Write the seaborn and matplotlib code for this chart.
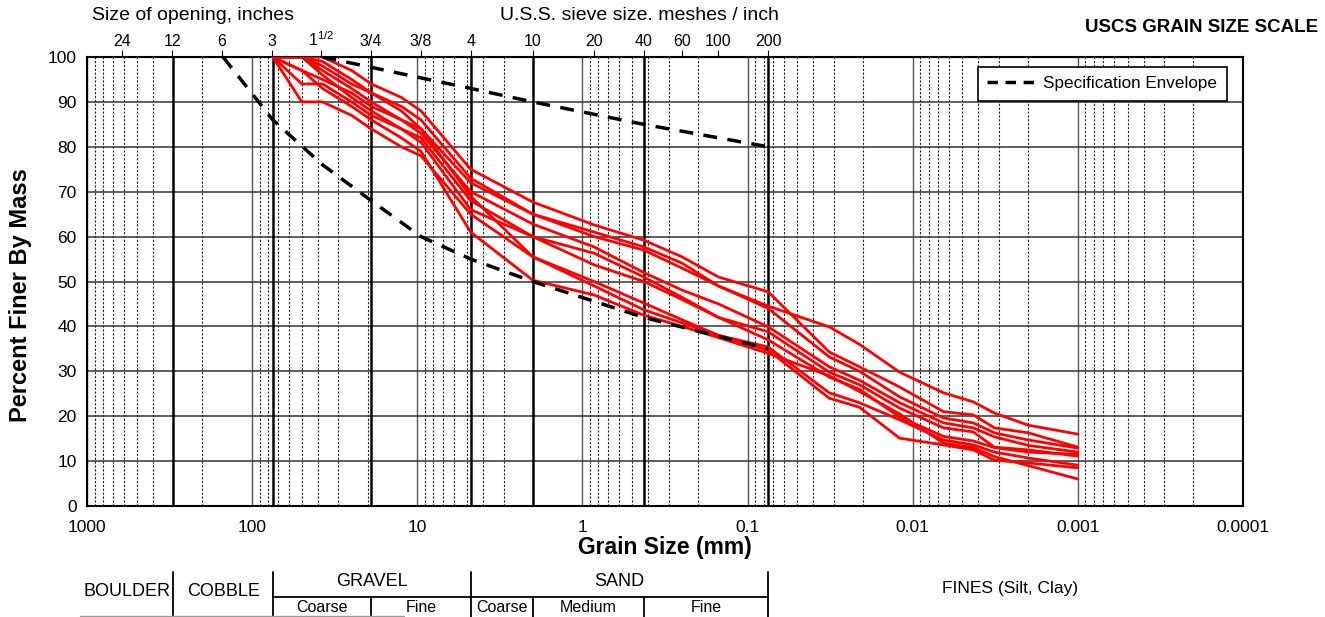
import numpy as np
import pandas as pd
import matplotlib
matplotlib.use("Agg")
import matplotlib.pyplot as plt
import matplotlib.transforms as mtransforms
from matplotlib.ticker import FixedLocator, LogLocator, NullFormatter
from matplotlib.lines import Line2D
import seaborn as sns

# sieve / hydrometer sizes (mm)
sizes = [75, 50, 37.5, 25, 19, 12.5, 9.5, 4.75, 2.0, 0.85, 0.425, 0.25, 0.15, 0.075,
         0.032, 0.021, 0.012, 0.0065, 0.0043, 0.0032, 0.002, 0.001]

# percent finer for each sample
s1 = [100, 100, 100, 97, 94, 91, 88, 75, 67.7, 62.6, 59.2, 55.5, 51, 47.7, 34.3, 31, 26.5, 21, 20.3, 17.4, 16.3, 13.1]
s2 = [100, 100, 98, 94, 92, 89, 86, 73, 65, 61, 57.7, 54.1, 49, 44.5, 39.9, 36, 29.8, 25.2, 23.2, 20.7, 18, 16]
s3 = [100, 97, 95, 92, 89, 86, 84, 72, 65, 60, 57, 53, 49, 44, 33.2, 30, 24.3, 19.6, 18.5, 16.3, 14.7, 12.9]
s4 = [100, 100, 97, 93, 90, 86, 83, 70, 62.8, 57.7, 52, 48.1, 45, 39.9, 31, 28, 23, 18.5, 17.4, 15.4, 13.5, 12]
s5 = [100, 94, 94, 90, 87, 84, 82, 68, 60, 56.3, 51, 46.5, 42, 38.8, 29.8, 27, 21.8, 17.4, 16.5, 13.1, 12.5, 11.1]
s6 = [100, 100, 96, 91, 88, 84, 81, 66, 60, 53.7, 50, 46, 42, 37, 28.7, 26, 19.8, 15.5, 14.5, 13, 12, 11.5]
s7 = [100, 90, 90, 87, 84, 80, 78, 65, 55.5, 50, 45.2, 41.5, 38, 35.4, 25.2, 23, 19.2, 14.7, 13.6, 12, 10.7, 9.1]
s8 = [100, 100, 99, 95, 92, 88, 84, 69, 55.5, 49, 43.7, 40.8, 38, 34.7, 24, 22, 15.1, 13.6, 12.5, 10.2, 9.6, 8.5]
s9 = [100, 97, 93, 89, 86, 82, 79, 61, 50.3, 47, 42.5, 40, 37.5, 34, 29, 25.5, 20.5, 14, 13, 11, 9, 6]
samples = [s1, s2, s3, s4, s5, s6, s7, s8, s9]

# specification envelope
upper_x = [37.5, 4.75, 2.0, 0.425, 0.075]
upper_y = [100, 93, 90, 85, 80]
lower_x = [150, 75, 37.5, 19, 9.5, 4.75, 2.0, 0.425, 0.075]
lower_y = [100, 86, 76, 68, 60, 55, 50, 42, 35]

# top axis sieve labels
sieve_mm = [609.6, 304.8, 152.4, 76.2, 38.1, 19.05, 9.525, 4.75, 2.0, 0.85, 0.425, 0.25, 0.15, 0.075]
sieve_labels = ["24", "12", "6", "3", "1$^{1/2}$", "3/4", "3/8", "4", "10", "20", "40", "60", "100", "200"]
heavy_lines = [300, 75, 19, 4.75, 2.0, 0.425, 0.075]

rows = []
for i, s in enumerate(samples):
    for x, y in zip(sizes, s):
        rows.append({"size": x, "pct": y, "sample": f"S{i + 1}"})
df = pd.DataFrame(rows)

sns.set_style("white")
plt.rcParams["font.family"] = ["Liberation Sans", "DejaVu Sans"]
plt.rcParams["mathtext.fontset"] = "custom"
plt.rcParams["mathtext.rm"] = "Liberation Sans"
for k in ["text.color", "axes.labelcolor", "xtick.color", "ytick.color"]:
    plt.rcParams[k] = "black"

fig = plt.figure(figsize=(13.25, 6.17), dpi=100)
ax = fig.add_axes([87 / 1325, 1 - 506 / 617, 1156 / 1325, 449 / 617])

ax.set_xscale("log")
ax.set_xlim(1000, 0.0001)
ax.set_ylim(0, 100)

# grid
ax.xaxis.set_major_locator(FixedLocator([1000, 100, 10, 1, 0.1, 0.01, 0.001, 0.0001]))
ax.set_xticklabels(["1000", "100", "10", "1", "0.1", "0.01", "0.001", "0.0001"])
ax.xaxis.set_minor_locator(LogLocator(base=10, subs=np.arange(2, 10), numticks=100))
ax.xaxis.set_minor_formatter(NullFormatter())
ax.set_yticks(np.arange(0, 101, 10))
ax.grid(which="major", axis="x", color="#555555", lw=1.0, ls="-")
ax.grid(which="minor", axis="x", color="#222222", lw=0.8, ls=(0, (2, 1.5)))
ax.grid(which="major", axis="y", color="#333333", lw=1.1, ls="-")
ax.set_axisbelow(True)
for v in heavy_lines:
    ax.axvline(v, color="black", lw=1.8, zorder=1)

sns.lineplot(data=df, x="size", y="pct", units="sample", estimator=None, sort=False,
             color="red", lw=2, ax=ax, zorder=3)
ax.plot(upper_x, upper_y, color="black", lw=2.5, ls=(0, (4, 3)), zorder=4)
ax.plot(lower_x, lower_y, color="black", lw=2.5, ls=(0, (4, 3)), zorder=4)

for sp in ax.spines.values():
    sp.set_color("black")
    sp.set_linewidth(1.5)
ax.tick_params(axis="both", which="major", labelsize=12.5, length=4, direction="out", color="black")
ax.tick_params(axis="x", which="minor", length=0)
ax.tick_params(axis="x", pad=6)

ax.set_xlabel("Grain Size (mm)", fontsize=16.5, fontweight="bold", labelpad=1)
ax.set_ylabel("Percent Finer By Mass", fontsize=17, fontweight="bold")
ax.yaxis.set_label_coords(-0.048, 0.47)

secax = ax.secondary_xaxis("top")
secax.set_xticks(sieve_mm, labels=sieve_labels)
secax.tick_params(axis="x", which="major", labelsize=11.5, length=5, pad=1)
secax.tick_params(axis="x", which="minor", length=0)
secax.xaxis.set_minor_locator(FixedLocator([]))

handle = Line2D([0], [0], color="black", lw=2.5, ls=(0, (3, 2.2)))
leg = ax.legend([handle], ["Specification Envelope"], loc="upper right",
                bbox_to_anchor=(0.986, 0.978), borderaxespad=0, fontsize=12.3, frameon=True,
                fancybox=False, edgecolor="black", framealpha=1, handlelength=2.8,
                handletextpad=0.5, borderpad=0.55)
leg.get_frame().set_linewidth(1.2)
leg.set_zorder(10)

fig.text(92 / 1325, 1 - 16 / 617, "Size of opening, inches", fontsize=14, va="center", ha="left")
fig.text(500 / 1325, 1 - 16 / 617, "U.S.S. sieve size. meshes / inch", fontsize=14, va="center", ha="left")
fig.text(1318 / 1325, 1 - 27 / 617, "USCS GRAIN SIZE SCALE", fontsize=13.5, fontweight="bold",
         va="center", ha="right")

# classification table below the axis
tr = mtransforms.blended_transform_factory(ax.transData, fig.transFigure)


def fy(p):
    return 1 - p / 617


for v in [300, 75, 4.75, 0.075]:
    fig.add_artist(Line2D([v, v], [fy(572), fy(617)], transform=tr, color="black", lw=1.3))
for v in [19, 2.0, 0.425]:
    fig.add_artist(Line2D([v, v], [fy(597), fy(617)], transform=tr, color="black", lw=1.3))
fig.add_artist(Line2D([75, 0.075], [fy(597), fy(597)], transform=tr, color="black", lw=1.3))
fig.add_artist(Line2D([1100, 12], [fy(616), fy(616)], transform=tr, color="#999999", lw=1))

labels_big = [(np.sqrt(1100 * 300), 591, "BOULDER"), (np.sqrt(300 * 75), 591, "COBBLE"),
              (np.sqrt(75 * 4.75), 582, "GRAVEL"), (np.sqrt(4.75 * 0.075), 582, "SAND")]
for x, y, t in labels_big:
    ax.text(x, fy(y), t, transform=tr, fontsize=13, ha="center", va="center")
labels_small = [(np.sqrt(75 * 19), "Coarse"), (np.sqrt(19 * 4.75), "Fine"),
                (np.sqrt(4.75 * 2.0), "Coarse"), (np.sqrt(2.0 * 0.425), "Medium"),
                (np.sqrt(0.425 * 0.075), "Fine")]
for x, t in labels_small:
    ax.text(x, fy(607), t, transform=tr, fontsize=11.5, ha="center", va="center")
fig.text(1010 / 1325, fy(588), "FINES (Silt, Clay)", fontsize=12.5, ha="center", va="center")

fig.savefig("out.png", dpi=100)
